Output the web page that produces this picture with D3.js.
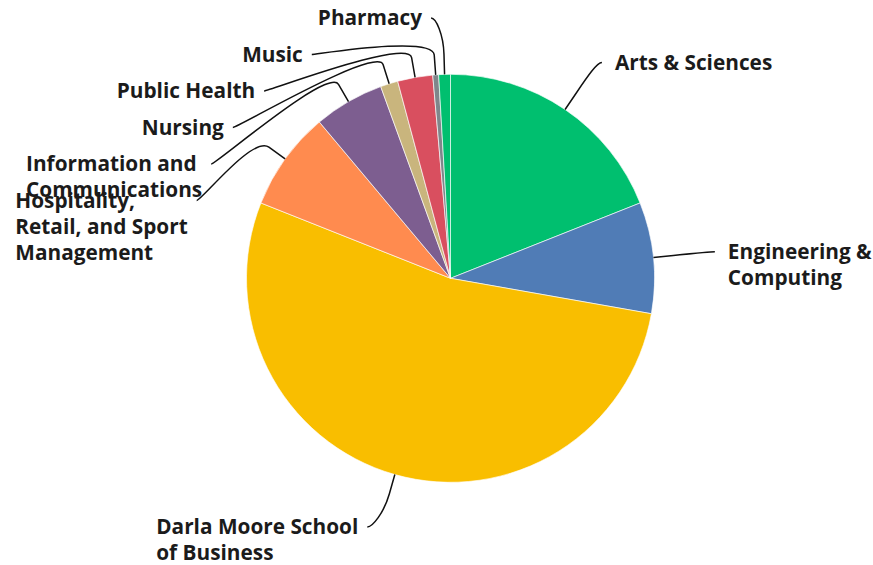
<!DOCTYPE html>
<html>
<head>
<meta charset="utf-8">
<script src="https://cdn.jsdelivr.net/npm/d3@7"></script>
<style>
  html, body { margin: 0; padding: 0; background: #ffffff; }
  svg { display: block; }
  .lbl { font-family: "Open Sans", "DejaVu Sans", sans-serif; font-weight: 700; font-size: 20.8px; fill: #1b1b1b; }
</style>
</head>
<body>
<svg id="chart" width="873" height="565"></svg>
<script>
// Colleges, in slice order clockwise from 12 o'clock
const colleges = [
  "Arts & Sciences",
  "Engineering & Computing",
  "Darla Moore School of Business",
  "Hospitality, Retail, and Sport Management",
  "Information and Communications",
  "Nursing",
  "Public Health",
  "Music",
  "Pharmacy"
];
// Number of responses per college
const responses = [41, 19, 115, 17, 12, 3, 6, 1, 2];
// Wrapped label text for each college
const labelLines = [
  ["Arts & Sciences"],
  ["Engineering &", "Computing"],
  ["Darla Moore School", "of Business"],
  ["Hospitality,", "Retail, and Sport", "Management"],
  ["Information and", "Communications"],
  ["Nursing"],
  ["Public Health"],
  ["Music"],
  ["Pharmacy"]
];
const sliceColors = ["#00bf6f", "#507cb6", "#f9be00", "#ff8b4f", "#7d5e90",
                     "#c9b57d", "#d94f5f", "#7f868b", "#00bf6f"];

const W = 873, H = 565;
const cx = 450.5, cy = 278.3, radius = 204;
const labelRadius = 260.7;    // circle on which connectors meet the labels
const labelPadding = 5;       // extra horizontal offset of the connector end
const breakRadius = 224;      // where connectors start to bend
const lineGap = 26;           // line spacing inside a label
const minSpacing = 36.5;      // minimum vertical distance between stacked labels
const topLimit = 18, bottomLimit = 527;

const svg = d3.select("#chart");
const color = d3.scaleOrdinal().domain(colleges).range(sliceColors);

const pie = d3.pie().sort(null).value(d => d.value);
const arcs = pie(colleges.map((name, i) => ({ name, value: responses[i], lines: labelLines[i] })));
const arc = d3.arc().innerRadius(0).outerRadius(radius);

const g = svg.append("g").attr("transform", `translate(${cx},${cy})`);

g.selectAll("path.slice")
  .data(arcs)
  .join("path")
  .attr("class", "slice")
  .attr("d", arc)
  .attr("fill", d => color(d.data.name))
  .attr("stroke", "#ffffff")
  .attr("stroke-width", 0.8)
  .attr("stroke-opacity", 0.8);

// Label placement: natural position on an outer circle, then stacked per side
const polar = (a, r) => [r * Math.sin(a), -r * Math.cos(a)];
const labels = arcs.map(d => {
  const mid = (d.startAngle + d.endAngle) / 2;
  const side = Math.sin(mid) < 0 ? "left" : "right";
  const [, ny] = polar(mid, labelRadius);
  return { d, mid, side, y: ny };
});

["left", "right"].forEach(side => {
  const group = labels.filter(l => l.side === side).sort((a, b) => a.y - b.y);
  let prev = -Infinity;
  group.forEach(l => {
    let y = Math.max(l.y, topLimit - cy, prev + minSpacing);
    y = Math.min(y, bottomLimit - cy);
    l.y = y;
    prev = y;
  });
});

labels.forEach(l => {
  const sign = l.side === "left" ? -1 : 1;
  const dx = Math.sqrt(Math.max(0, labelRadius * labelRadius - l.y * l.y));
  l.x = sign * (dx + labelPadding);
  const touch = polar(l.mid, radius);
  const brk = polar(l.mid, breakRadius);
  const ctrl2 = [2 * brk[0] - touch[0], 2 * brk[1] - touch[1]];
  const ctrl1 = [l.x - sign * 5, l.y];
  const p = d3.path();
  p.moveTo(l.x, l.y);
  p.bezierCurveTo(ctrl1[0], ctrl1[1], ctrl2[0], ctrl2[1], brk[0], brk[1]);
  p.lineTo(touch[0], touch[1]);
  l.path = p.toString();
});

g.selectAll("path.connector")
  .data(labels)
  .join("path")
  .attr("class", "connector")
  .attr("d", l => l.path)
  .attr("fill", "none")
  .attr("stroke", "#111111")
  .attr("stroke-width", 1.5);

const texts = g.selectAll("text.lbl")
  .data(labels)
  .join("text")
  .attr("class", "lbl");

texts.each(function (l) {
  const t = d3.select(this);
  l.d.data.lines.forEach((line, i) => {
    t.append("tspan").attr("dy", i === 0 ? 0 : lineGap).text(line);
  });
  const widths = [];
  t.selectAll("tspan").each(function () { widths.push(this.getComputedTextLength()); });
  const blockW = d3.max(widths);
  const x0 = l.side === "left" ? l.x - 9 - blockW : l.x + 13;
  t.attr("y", l.y + 7);
  t.selectAll("tspan").attr("x", x0);
});
</script>
</body>
</html>
